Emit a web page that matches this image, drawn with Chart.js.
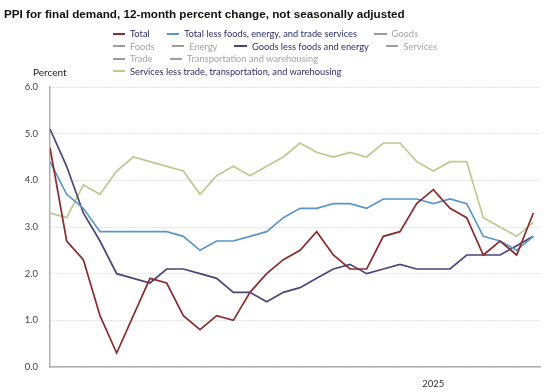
<!DOCTYPE html>
<html>
<head>
<meta charset="utf-8">
<script src="https://cdn.jsdelivr.net/npm/chart.js@4"></script>
<style>
    body { margin: 0; background: #fff; }
    #wrap { position: relative; width: 550px; height: 392px; }
    canvas { position: absolute; left: 0; top: 0; }
    #title { position: absolute; left: 4px; top: 6.5px; font: bold 11.7px "Liberation Sans", Arial, sans-serif; color: #111; white-space: nowrap; }
    #legend { position: absolute; left: 112.5px; top: 27.4px; width: 360px; display: flex; flex-wrap: wrap; font: 9.3px Lato, sans-serif; }
    .item { display: flex; align-items: center; height: 12.5px; margin-right: 17px; white-space: nowrap; }
    .mark { flex: 0 0 12.5px; height: 2px; margin-right: 5px; }
    #ylab { position: absolute; left: 33px; top: 65.5px; font: 10px Lato, sans-serif; color: #222; }
</style>
</head>
<body>
<div id="wrap">
    <canvas id="chart-ppi" width="550" height="392"></canvas>
    <div id="title">PPI for final demand, 12-month percent change, not seasonally adjusted</div>
    <div id="legend"></div>
    <div id="ylab">Percent</div>
</div>
<script>
// Monate Feb 2023 - Jul 2025
const months = [
    "Feb 2023", "Mar 2023", "Apr 2023", "May 2023", "Jun 2023", "Jul 2023", "Aug 2023", "Sep 2023", "Oct 2023", "Nov 2023", "Dec 2023",
    "Jan 2024", "Feb 2024", "Mar 2024", "Apr 2024", "May 2024", "Jun 2024", "Jul 2024", "Aug 2024", "Sep 2024", "Oct 2024", "Nov 2024", "Dec 2024",
    "Jan 2025", "Feb 2025", "Mar 2025", "Apr 2025", "May 2025", "Jun 2025", "Jul 2025"
];

const total = [4.7, 2.7, 2.3, 1.1, 0.3, 1.1, 1.9, 1.8, 1.1, 0.8, 1.1, 1.0, 1.6, 2.0, 2.3, 2.5, 2.9, 2.4, 2.1, 2.1, 2.8, 2.9, 3.5, 3.8, 3.4, 3.2, 2.4, 2.7, 2.4, 3.3];
const totalLessFET = [4.4, 3.7, 3.4, 2.9, 2.9, 2.9, 2.9, 2.9, 2.8, 2.5, 2.7, 2.7, 2.8, 2.9, 3.2, 3.4, 3.4, 3.5, 3.5, 3.4, 3.6, 3.6, 3.6, 3.5, 3.6, 3.5, 2.8, 2.7, 2.5, 2.8];
const goodsLessFE = [5.1, 4.3, 3.3, 2.7, 2.0, 1.9, 1.8, 2.1, 2.1, 2.0, 1.9, 1.6, 1.6, 1.4, 1.6, 1.7, 1.9, 2.1, 2.2, 2.0, 2.1, 2.2, 2.1, 2.1, 2.1, 2.4, 2.4, 2.4, 2.6, 2.8];
const servicesLessTTW = [3.3, 3.2, 3.9, 3.7, 4.2, 4.5, 4.4, 4.3, 4.2, 3.7, 4.1, 4.3, 4.1, 4.3, 4.5, 4.8, 4.6, 4.5, 4.6, 4.5, 4.8, 4.8, 4.4, 4.2, 4.4, 4.4, 3.2, 3.0, 2.8, 3.1];

// Reihen, die im Original nur in der Legende stehen
const goods = [];
const foods = [];
const energy = [];
const services = [];
const trade = [];
const transport = [];

const yearTick = "Jan 2025";

const darkText = "#2e2e6b";
const grayText = "#a5a5a5";
const grayLine = "#9c9c9c";

function toPoints(values) {
    return values.map((v, i) => ({ x: i, y: v }));
}

function series(label, values, color, textColor) {
    return {
        label,
        data: toPoints(values),
        borderColor: color,
        backgroundColor: color,
        borderWidth: 1.7,
        pointRadius: 0,
        tension: 0,
        textColor
    };
}

const ctx = document.getElementById("chart-ppi").getContext("2d");

const chart = new Chart(ctx, {
    type: "line",
    data: {
        datasets: [
            series("Total", total, "#8b2c2e", darkText),
            series("Total less foods, energy, and trade services", totalLessFET, "#5b96c9", darkText),
            series("Goods", goods, grayLine, grayText),
            series("Foods", foods, grayLine, grayText),
            series("Energy", energy, grayLine, grayText),
            series("Goods less foods and energy", goodsLessFE, "#4a4479", darkText),
            series("Services", services, grayLine, grayText),
            series("Trade", trade, grayLine, grayText),
            series("Transportation and warehousing", transport, grayLine, grayText),
            series("Services less trade, transportation, and warehousing", servicesLessTTW, "#bccb90", darkText)
        ]
    },
    options: {
        responsive: false,
        animation: false,
        layout: { padding: { top: 87, right: 10, left: 0, bottom: 0 } },
        plugins: {
            legend: { display: false },
            title: { display: false },
            tooltip: { enabled: false }
        },
        scales: {
            x: {
                type: "linear",
                min: 0,
                max: months.length - 0.6,
                afterFit: scale => { scale.height = 25; },
                grid: { display: false },
                border: { display: true, color: "#b0b0b0", width: 1.5 },
                ticks: {
                    stepSize: 1,
                    autoSkip: false,
                    maxRotation: 0,
                    padding: 3,
                    color: "#333",
                    font: { family: "Lato", size: 9.5 },
                    callback: v => (months[v] === yearTick ? yearTick.slice(4) : "")
                }
            },
            y: {
                min: 0,
                max: 6,
                afterFit: scale => { scale.width = 50; },
                grid: { color: "#c4c4c4", lineWidth: 1, drawTicks: false },
                border: { display: true, color: "#b0b0b0", width: 1.5, dash: [1, 2] },
                ticks: {
                    stepSize: 1,
                    padding: 12,
                    color: "#444",
                    font: { family: "Lato", size: 9.5 },
                    callback: v => v.toFixed(1)
                }
            }
        }
    }
});

// Legende als HTML, damit die Zeilen wie im Original umbrechen
const legendBox = document.getElementById("legend");
chart.data.datasets.forEach(ds => {
    const item = document.createElement("div");
    item.className = "item";
    item.innerHTML = `<span class="mark" style="background:${ds.borderColor}"></span><span style="color:${ds.textColor}">${ds.label}</span>`;
    legendBox.appendChild(item);
});
</script>
</body>
</html>
